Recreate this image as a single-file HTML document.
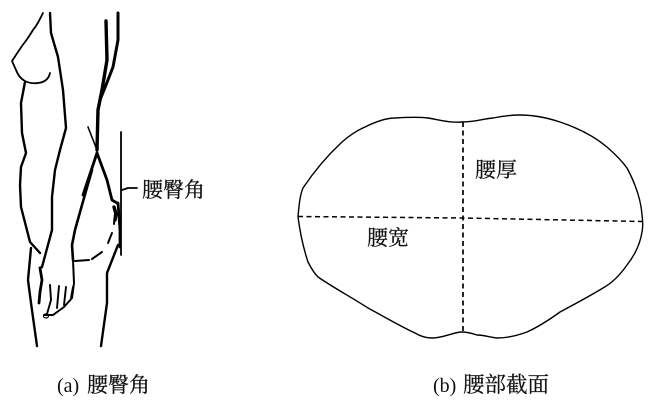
<!DOCTYPE html>
<html>
<head>
<meta charset="utf-8">
<style>
html,body{margin:0;padding:0;background:#fff;}
svg{display:block;}
text{font-family:"Liberation Serif","Noto Serif CJK SC",serif;fill:#111;stroke:#111;stroke-width:.25px;}
</style>
</head>
<body>
<svg width="652" height="408" viewBox="0 0 652 408" xmlns="http://www.w3.org/2000/svg">
<g fill="none" stroke="#000" stroke-linecap="round" stroke-linejoin="round">
  <!-- chest -->
  <path d="M43 13 C39 21 37 25 33 30 C30 35 28 38 25 42 C21 47 16 55 12 61 L16 70 Q19 78 25 81 Q31 84 38 83 Q48 82 50 73" stroke-width="1.8"/>
  <!-- torso back / arm -->
  <path d="M25 82 L21 103 L22 133 L26 153 L21 167 L20 185 L21 207 L30 242 L40 253" stroke-width="2.4"/>
  <path d="M50 13 L51 33 L58 57 L63 90 L66 128 L60 150 L55 170 L52 197 L52 230 L42 267 L40 268" stroke-width="2.4"/>
  <!-- lower left leg -->
  <path d="M31 248 L28 280 L31 303 L37 346" stroke-width="2.4"/>
  <!-- hand -->
  <path d="M40 268 L42 280 L40 292 L39 303" stroke-width="2.8"/>
  <path d="M73 260 L74 283 L72 298 L64 307 L53 315 L44 315" stroke-width="2"/>
  <path d="M50 285 L51 300 L47 314" stroke-width="1.9"/>
  <path d="M59 286 L57 308" stroke-width="1.9"/>
  <path d="M66 287 L64 305" stroke-width="1.9"/>
  <path d="M73 287 L71 298" stroke-width="1.9"/>
  <ellipse cx="46" cy="316" rx="2.5" ry="2" stroke-width="1.2"/>
  <!-- front thigh -->
  <path d="M92 170 L82 205 L75 230 L72 245 L73 260" stroke-width="2.6"/>
  <path d="M75 261 L89 260" stroke-width="2"/>
  <path d="M92 259 L102 252" stroke-width="2"/>
  <path d="M108 243 L112 233" stroke-width="2"/>
  <path d="M114 224 L115 213" stroke-width="2"/>
  <!-- upper right lines -->
  <path d="M106 21 L107 60 L102 90 L98 110 L97 150" stroke-width="3.400"/>
  <path d="M118 13 L118 40 L113 67 L106 85 L100 100" stroke-width="3"/>
  <!-- cross -->
  <path d="M88 127 L97 150" stroke-width="1.6"/>
  <path d="M97 153 L88 180 L83 195" stroke-width="2.800"/>
  <path d="M97 153 L107 180 L112 200 L117 203" stroke-width="2.800"/>
  <path d="M114 207 L116 214 L115 220" stroke-width="3.400"/>
  <path d="M118 203 L120 230 L120 247" stroke-width="2.800"/>
  <!-- plumb line -->
  <path d="M121 132 L121 255" stroke-width="1.800"/>
  <!-- leader -->
  <path d="M122 190 L128 188 L137 188" stroke-width="1.800"/>
  <!-- lower right leg -->
  <path d="M118 245 L107 273 L107 303 L101 346" stroke-width="2.400"/>
  <!-- cross-section -->
  <path d="M298 217 C299 205 300 195 303 188 C315 170 328 155 342 142 C350 135 358 130 365 127 C375 122 385 118 395 118 C410 117 420 117 428 118 C440 120 450 123 462 122 C475 122 482 119 493 118 C503 116 511 115 520 115 C535 115 548 118 560 122 C578 128 595 137 607 147 C615 154 622 161 627 168 C635 183 641 200 642 215 C643 222 643 227 642 232 C640 245 634 256 627 265 C620 275 612 283 603 288 C590 296 575 304 560 312 C549 320 538 327 527 332 C516 336 506 338 497 338 C489 337 484 335 477 335 C471 333 467 332 462 332 C454 332 443 338 432 338 C426 338 420 336 415 333 C398 325 383 316 368 308 C351 297 334 288 318 277 C314 273 311 268 308 262 C303 247 300 232 298 217 Z" stroke-width="1.400"/>
  <path d="M298 216.500 L463 218 L642 221.500" stroke-width="1.500" stroke-dasharray="5 3.500" stroke-linecap="butt"/>
  <path d="M463 122 L463 332" stroke-width="1.700" stroke-dasharray="5 3.500" stroke-linecap="butt"/>
</g>
<text x="142" y="197" font-size="21">腰臀角</text>
<text x="475" y="177" font-size="21">腰厚</text>
<text x="367" y="245" font-size="21">腰宽</text>
<text x="57" y="392" font-size="20" style="stroke-width:0">(a)</text>
<text x="87" y="392" font-size="21">腰臀角</text>
<text x="433" y="392" font-size="20" style="stroke-width:0">(b)</text>
<text x="463" y="392" font-size="21.500">腰部截面</text>
</svg>
</body>
</html>
